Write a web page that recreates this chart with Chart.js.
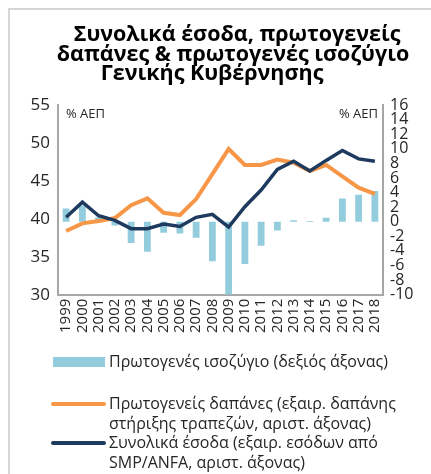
<!DOCTYPE html>
<html>
<head>
<meta charset="utf-8">
<script src="https://cdn.jsdelivr.net/npm/chart.js@4"></script>
<style>
  body { margin: 0; background: #fff; }
  #wrap { position: relative; width: 431px; height: 474px; }
  #frame { position: absolute; left: 8px; top: 8px; width: 440px; height: 480px;
           border-left: 2px solid #d6d6d6; border-top: 2px solid #d6d6d6; }
  canvas { position: absolute; left: 0; top: 0; }
</style>
</head>
<body>
<div id="wrap">
  <div id="frame"></div>
  <canvas id="c" width="431" height="474"></canvas>
</div>
<script>
// --- DATA ---
const years = ["1999","2000","2001","2002","2003","2004","2005","2006","2007","2008",
               "2009","2010","2011","2012","2013","2014","2015","2016","2017","2018"];
const primaryBalance = [1.8, 2.2, 0.6, -0.5, -2.9, -4.1, -1.5, -1.6, -2.2, -5.4,
                        -10, -5.8, -3.3, -1.2, 0.2, 0.1, 0.55, 3.2, 3.7, 4.2];
const primarySpending = [38.4, 39.4, 39.7, 40.1, 41.8, 42.7, 40.8, 40.5, 42.6, 45.9,
                         49.2, 47.1, 47.1, 47.8, 47.4, 46.3, 47.1, 45.6, 44.1, 43.3];
const totalRevenue = [40.2, 42.2, 40.4, 39.8, 38.7, 38.7, 39.3, 39.0, 40.2, 40.6,
                      38.9, 41.6, 43.8, 46.5, 47.6, 46.3, 47.7, 49.0, 47.9, 47.6];
const titleLines = ["Συνολικά έσοδα, πρωτογενείς", "δαπάνες & πρωτογενές ισοζύγιο", "Γενικής Κυβέρνησης"];
const legendItems = [
  { type: "bar", color: "#93cddd", lines: ["Πρωτογενές ισοζύγιο (δεξιός άξονας)"] },
  { type: "line", color: "#f79646", lines: ["Πρωτογενείς δαπάνες (εξαιρ. δαπάνης", "στήριξης τραπεζών, αριστ. άξονας)"] },
  { type: "line", color: "#1f3a5f", lines: ["Συνολικά έσοδα (εξαιρ. εσόδων από", "SMP/ANFA, αριστ. άξονας)"] }
];

const FONT = "'Open Sans', sans-serif";
const TXT = "#262626";

// title, custom legend and "% ΑΕΠ" labels
const extras = {
  id: "extras",
  afterDraw(chart) {
    const ctx = chart.ctx;
    const a = chart.chartArea;
    ctx.save();

    // title
    ctx.fillStyle = "#000";
    ctx.font = "bold 21.5px " + FONT;
    ctx.textAlign = "center";
    ctx.textBaseline = "middle";
    const tx = [237, 233, 212];
    const ty = [35, 55, 74];
    titleLines.forEach((t, i) => ctx.fillText(t, tx[i], ty[i]));

    ctx.fillStyle = TXT;
    ctx.font = "13px " + FONT;
    ctx.textAlign = "left";
    ctx.fillText("% ΑΕΠ", a.left + 8, a.top + 9);
    ctx.textAlign = "right";
    ctx.fillText("% ΑΕΠ", a.right - 5, a.top + 9);

    ctx.font = "16px " + FONT;
    ctx.textAlign = "left";
    const rows = [[362], [404, 424], [443, 463]];
    legendItems.forEach((it, i) => {
      const y0 = rows[i][0];
      if (it.type === "bar") {
        ctx.fillStyle = it.color;
        ctx.fillRect(53, y0 - 5, 52, 10);
      } else {
        ctx.strokeStyle = it.color;
        ctx.lineWidth = 4;
        ctx.lineCap = "round";
        ctx.beginPath();
        ctx.moveTo(53, y0);
        ctx.lineTo(104, y0);
        ctx.stroke();
      }
      ctx.fillStyle = TXT;
      it.lines.forEach((t, k) => ctx.fillText(t, 109, rows[i][k]));
    });
    ctx.restore();
  }
};

new Chart(document.getElementById("c"), {
  type: "bar",
  data: {
    labels: years,
    datasets: [
      { type: "line", label: "Συνολικά έσοδα", data: totalRevenue, yAxisID: "y",
        borderColor: "#1f3a5f", borderWidth: 3.5, pointRadius: 0, tension: 0, order: 0 },
      { type: "line", label: "Πρωτογενείς δαπάνες", data: primarySpending, yAxisID: "y",
        borderColor: "#f79646", borderWidth: 4, pointRadius: 0, tension: 0, order: 1 },
      { type: "bar", label: "Πρωτογενές ισοζύγιο", data: primaryBalance, yAxisID: "y2",
        backgroundColor: "#93cddd", barPercentage: 0.42, categoryPercentage: 1, order: 2 }
    ]
  },
  options: {
    responsive: false,
    animation: false,
    layout: { padding: { left: 10, right: 0, top: 105, bottom: 137 } },
    plugins: {
      legend: { display: false },
      tooltip: { enabled: false },
      title: { display: false }
    },
    scales: {
      x: {
        offset: true,
        grid: { display: false, drawTicks: false },
        border: { color: "#a6a6a6", width: 2 },
        ticks: { color: TXT, font: { family: FONT, size: 15 }, minRotation: 90, maxRotation: 90, padding: 4, autoSkip: false }
      },
      y: {
        position: "left",
        min: 30, max: 55,
        afterFit(s) { s.width = 48; },
        grid: { display: false, drawTicks: true, tickLength: 4, tickColor: "#a6a6a6" },
        border: { color: "#a6a6a6", width: 2 },
        ticks: { stepSize: 5, color: TXT, font: { family: FONT, size: 17 }, padding: 4 }
      },
      y2: {
        position: "right",
        min: -10, max: 16,
        afterFit(s) { s.width = 48; },
        grid: { display: false, drawTicks: true, tickLength: 5, tickColor: "#a6a6a6" },
        border: { color: "#a6a6a6", width: 2 },
        ticks: { stepSize: 2, autoSkip: false, color: TXT, font: { family: FONT, size: 16 }, padding: 2 }
      }
    }
  },
  plugins: [extras]
});
</script>
</body>
</html>
